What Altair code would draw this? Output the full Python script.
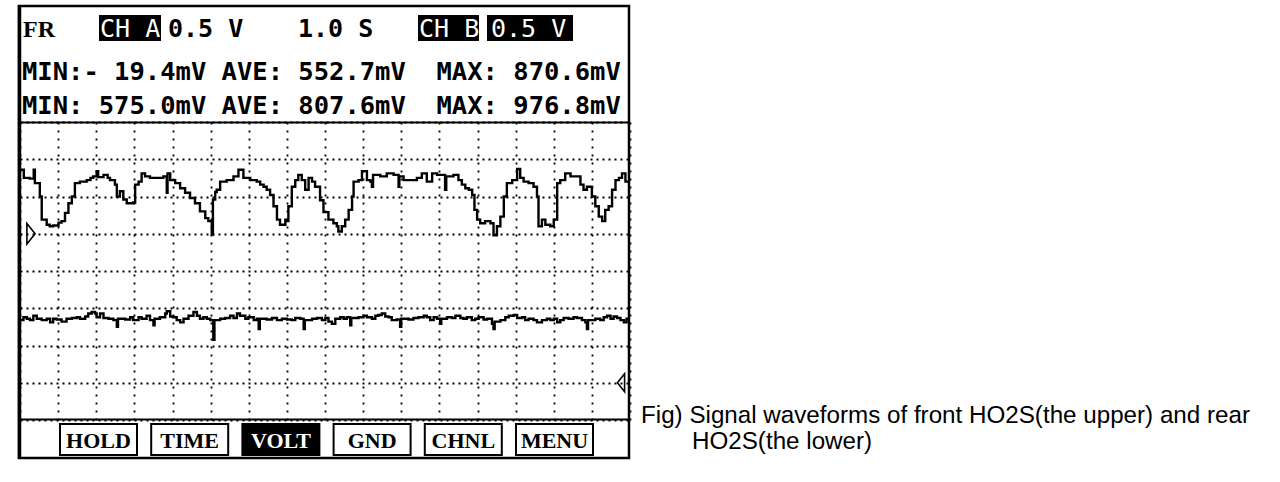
import altair as alt
import pandas as pd

# Front HO2S trace (CH A): (time in s, voltage in V)
ch_a = [
    (0.00, 0.86), (0.10, 0.75), (0.25, 0.74), (0.36, 0.86), (0.39, 0.68), (0.52, 0.50),
    (0.57, 0.19), (0.70, 0.12), (0.78, 0.10), (0.87, 0.11), (1.01, 0.15), (1.09, 0.17),
    (1.18, 0.28), (1.27, 0.41), (1.36, 0.50), (1.44, 0.68), (1.57, 0.70), (1.75, 0.72),
    (1.85, 0.75), (1.92, 0.77), (2.01, 0.84), (2.05, 0.76), (2.19, 0.79), (2.30, 0.75),
    (2.36, 0.72), (2.49, 0.66), (2.54, 0.50), (2.62, 0.57), (2.71, 0.46), (2.80, 0.41),
    (2.97, 0.42), (3.02, 0.66), (3.11, 0.70), (3.19, 0.81), (3.28, 0.77), (3.41, 0.75),
    (3.59, 0.75), (3.76, 0.77), (3.85, 0.55), (3.87, 0.81), (3.94, 0.72), (4.07, 0.68),
    (4.20, 0.61), (4.33, 0.55), (4.46, 0.48), (4.59, 0.41), (4.72, 0.30), (4.86, 0.21),
    (4.94, 0.17), (5.03, -0.01), (5.06, 0.46), (5.12, 0.56), (5.16, 0.59), (5.25, 0.70),
    (5.42, 0.72), (5.60, 0.77), (5.73, 0.86), (5.86, 0.75), (6.04, 0.72), (6.21, 0.70),
    (6.30, 0.66), (6.39, 0.63), (6.47, 0.59), (6.56, 0.52), (6.65, 0.37), (6.74, 0.19),
    (6.82, 0.12), (6.96, 0.19), (7.00, 0.17), (7.04, 0.37), (7.13, 0.63), (7.22, 0.72),
    (7.30, 0.79), (7.39, 0.72), (7.48, 0.59), (7.57, 0.75), (7.66, 0.70), (7.74, 0.63),
    (7.87, 0.45), (7.96, 0.29), (8.09, 0.19), (8.22, 0.14), (8.31, 0.10), (8.35, 0.03),
    (8.44, 0.10), (8.53, 0.19), (8.62, 0.32), (8.71, 0.50), (8.75, 0.70), (8.88, 0.72),
    (8.97, 0.84), (9.10, 0.72), (9.19, 0.70), (9.23, 0.63), (9.26, 0.79), (9.45, 0.77),
    (9.62, 0.81), (9.80, 0.79), (9.93, 0.63), (9.95, 0.77), (10.06, 0.72), (10.24, 0.72),
    (10.41, 0.75), (10.54, 0.81), (10.67, 0.70), (10.81, 0.81), (10.94, 0.79), (11.07, 0.79),
    (11.15, 0.59), (11.18, 0.77), (11.37, 0.79), (11.50, 0.72), (11.59, 0.66), (11.68, 0.61),
    (11.77, 0.59), (11.86, 0.52), (11.92, 0.32), (11.99, 0.19), (12.07, 0.14), (12.20, 0.17),
    (12.34, 0.14), (12.42, -0.02), (12.51, 0.10), (12.60, 0.23), (12.69, 0.50), (12.77, 0.68),
    (12.91, 0.72), (13.04, 0.87), (13.12, 0.75), (13.21, 0.70), (13.34, 0.68), (13.47, 0.63),
    (13.56, 0.50), (13.60, 0.10), (13.69, 0.19), (13.78, 0.12), (13.91, 0.10), (14.00, 0.19),
    (14.09, 0.68), (14.17, 0.72), (14.30, 0.81), (14.44, 0.77), (14.57, 0.77), (14.70, 0.66),
    (14.78, 0.59), (14.87, 0.63), (15.00, 0.50), (15.09, 0.37), (15.18, 0.23), (15.27, 0.17),
    (15.35, 0.32), (15.44, 0.37), (15.53, 0.59), (15.62, 0.72), (15.71, 0.75), (15.79, 0.81),
    (15.88, 0.70), (16.00, 0.70),
]

# Rear HO2S trace (CH B): (time in s, voltage in V)
ch_b = [
    (0.00, 0.84), (0.09, 0.88), (0.18, 0.86), (0.26, 0.84), (0.35, 0.90), (0.44, 0.86),
    (0.57, 0.84), (0.70, 0.86), (0.79, 0.81), (0.87, 0.86), (0.96, 0.85), (1.09, 0.82),
    (1.22, 0.86), (1.36, 0.87), (1.49, 0.88), (1.57, 0.86), (1.71, 0.89), (1.79, 0.93),
    (1.88, 0.95), (1.97, 0.93), (2.01, 0.88), (2.10, 0.93), (2.19, 0.87), (2.32, 0.86),
    (2.45, 0.84), (2.54, 0.75), (2.57, 0.86), (2.62, 0.86), (2.76, 0.85), (2.89, 0.88),
    (2.97, 0.84), (3.11, 0.88), (3.19, 0.86), (3.32, 0.90), (3.41, 0.84), (3.50, 0.77),
    (3.53, 0.86), (3.59, 0.86), (3.67, 0.88), (3.81, 0.93), (3.85, 0.96), (3.94, 0.89),
    (4.02, 0.88), (4.11, 0.84), (4.20, 0.81), (4.29, 0.86), (4.42, 0.90), (4.55, 0.95),
    (4.64, 0.90), (4.72, 0.86), (4.81, 0.88), (4.90, 0.86), (4.99, 0.84), (5.07, 0.575),
    (5.10, 0.84), (5.25, 0.86), (5.38, 0.87), (5.51, 0.90), (5.60, 0.87), (5.69, 0.93),
    (5.77, 0.90), (5.91, 0.86), (5.99, 0.88), (6.13, 0.84), (6.21, 0.86), (6.26, 0.72),
    (6.29, 0.86), (6.47, 0.85), (6.61, 0.87), (6.74, 0.84), (6.87, 0.86), (7.00, 0.85),
    (7.13, 0.84), (7.22, 0.87), (7.35, 0.86), (7.44, 0.72), (7.47, 0.84), (7.66, 0.86),
    (7.79, 0.87), (7.92, 0.84), (8.01, 0.87), (8.09, 0.82), (8.18, 0.79), (8.27, 0.86),
    (8.40, 0.88), (8.49, 0.86), (8.57, 0.88), (8.66, 0.77), (8.69, 0.87), (8.88, 0.88),
    (9.01, 0.90), (9.10, 0.88), (9.23, 0.86), (9.32, 0.90), (9.40, 0.91), (9.49, 0.93),
    (9.58, 0.89), (9.67, 0.88), (9.75, 0.84), (9.88, 0.85), (9.97, 0.75), (10.00, 0.86),
    (10.19, 0.85), (10.32, 0.87), (10.45, 0.88), (10.59, 0.90), (10.67, 0.88), (10.76, 0.84),
    (10.85, 0.88), (10.94, 0.86), (11.02, 0.79), (11.05, 0.86), (11.20, 0.88), (11.33, 0.87),
    (11.42, 0.90), (11.55, 0.87), (11.63, 0.86), (11.72, 0.88), (11.85, 0.84), (11.94, 0.86),
    (12.03, 0.88), (12.16, 0.85), (12.25, 0.86), (12.38, 0.79), (12.42, 0.72), (12.45, 0.82),
    (12.60, 0.84), (12.73, 0.88), (12.82, 0.90), (12.95, 0.91), (13.04, 0.87), (13.17, 0.88),
    (13.25, 0.84), (13.34, 0.86), (13.47, 0.84), (13.56, 0.81), (13.69, 0.84), (13.82, 0.86),
    (13.91, 0.84), (14.00, 0.86), (14.09, 0.81), (14.17, 0.84), (14.26, 0.87), (14.39, 0.86),
    (14.52, 0.88), (14.61, 0.87), (14.74, 0.84), (14.83, 0.81), (14.87, 0.72), (14.90, 0.84),
    (15.09, 0.86), (15.22, 0.84), (15.31, 0.88), (15.40, 0.90), (15.49, 0.86), (15.57, 0.89),
    (15.66, 0.87), (15.75, 0.84), (15.84, 0.81), (15.91, 0.86), (16.00, 0.86),
]

# Scope settings
volts_per_div = 0.5
secs_per_div = 1.0
n_xdiv, n_ydiv = 16, 8
ground_div_a = 5   # CH A zero level, divisions above the bottom
ground_div_b = 1   # CH B zero level

# Screen texts (non-breaking spaces keep the fixed-width columns)
NBSP = "\u00a0"
header_fr = "FR"
header_ch_a = "CH" + NBSP + "A"
header_volt_a = "0.5" + NBSP + "V"
header_time = "1.0" + NBSP + "S"
header_ch_b = "CH" + NBSP + "B"
header_volt_b = "0.5" + NBSP + "V"
stats_a = "MIN:- 19.4mV AVE: 552.7mV  MAX: 870.6mV".replace(" ", NBSP)
stats_b = "MIN: 575.0mV AVE: 807.6mV  MAX: 976.8mV".replace(" ", NBSP)
buttons = ["HOLD", "TIME", "VOLT", "GND", "CHNL", "MENU"]
active_button = "VOLT"
caption_1 = "Fig) Signal waveforms of front HO2S(the upper) and rear"
caption_2 = "HO2S(the lower)"

# Page layout (pixels)
LEFT, TOP = 20, 122
W, H = 610, 298
PAGE_W, PAGE_H = 1280, 482
MONO = "DejaVu Sans Mono"
SERIF = "Liberation Serif"
SANS = "Liberation Sans"


def px(x):
    return x - LEFT


def py(y):
    return y - TOP


one = pd.DataFrame({"k": [0]})


def label(txt, x, y, size, font, weight="bold", color="black", align="left"):
    return alt.Chart(one).mark_text(
        text=txt, font=font, fontSize=size, fontWeight=weight, color=color,
        align=align, baseline="alphabetic",
    ).encode(x=alt.value(px(x)), y=alt.value(py(y)))


def box(x0, x1, y0, y1, fill="black", stroke=None, sw=0.0, opacity=1.0):
    props = dict(fill=fill, fillOpacity=opacity)
    if stroke is not None:
        props.update(stroke=stroke, strokeWidth=sw)
    return alt.Chart(one).mark_rect(**props).encode(
        x=alt.value(px(x0)), x2=alt.value(px(x1)),
        y=alt.value(py(y0)), y2=alt.value(py(y1)),
    )


def hline(x0, x1, y, sw):
    return alt.Chart(one).mark_rule(color="black", strokeWidth=sw).encode(
        x=alt.value(px(x0)), x2=alt.value(px(x1)), y=alt.value(py(y))
    )


def vline(x, y0, y1, sw):
    return alt.Chart(one).mark_rule(color="black", strokeWidth=sw).encode(
        x=alt.value(px(x)), y=alt.value(py(y0)), y2=alt.value(py(y1))
    )


# Scales: time across 16 divisions, each channel with its own volts scale
x_scale = alt.Scale(domain=[0, n_xdiv * secs_per_div], nice=False, zero=False)
dom_a = [-ground_div_a * volts_per_div, (n_ydiv - ground_div_a) * volts_per_div]
dom_b = [-ground_div_b * volts_per_div, (n_ydiv - ground_div_b) * volts_per_div]
y_scale_a = alt.Scale(domain=dom_a, nice=False, zero=False)
y_scale_b = alt.Scale(domain=dom_b, nice=False, zero=False)

x_axis = alt.Axis(
    values=[i * secs_per_div for i in range(n_xdiv + 1)], grid=True, labels=False,
    ticks=False, domain=False, title=None, gridColor="black", gridDash=[2, 6],
    gridWidth=1.8, gridOpacity=1,
)
y_axis = alt.Axis(
    values=[dom_a[0] + i * volts_per_div for i in range(n_ydiv + 1)], grid=True,
    labels=False, ticks=False, domain=False, title=None, gridColor="black",
    gridDash=[2, 4], gridWidth=1.8, gridOpacity=1,
)

df_a = pd.DataFrame(ch_a, columns=["t", "v"])
df_b = pd.DataFrame(ch_b, columns=["t", "v"])

trace_a = alt.Chart(df_a).mark_line(
    color="black", strokeWidth=2.4, interpolate="step-after"
).encode(
    x=alt.X("t:Q", scale=x_scale, axis=x_axis),
    y=alt.Y("v:Q", scale=y_scale_a, axis=y_axis),
)
trace_b = alt.Chart(df_b).mark_line(
    color="black", strokeWidth=2.4, interpolate="step-after"
).encode(
    x=alt.X("t:Q", scale=x_scale, axis=x_axis),
    y=alt.Y("v:Q", scale=y_scale_b, axis=None),
)

# Zero-level markers of each channel
zero = pd.DataFrame({"v": [0.0]})
marker_right = "M -0.4 -1 L 0.4 0 L -0.4 1 Z"
marker_left = "M 0.4 -1 L -0.4 0 L 0.4 1 Z"
ground_a = alt.Chart(zero).mark_point(
    shape=marker_right, size=420, filled=False, stroke="black", strokeWidth=1.6, opacity=1
).encode(x=alt.value(px(31)), y=alt.Y("v:Q", scale=y_scale_a, axis=None))
ground_b = alt.Chart(zero).mark_point(
    shape=marker_left, size=320, filled=False, stroke="black", strokeWidth=1.6, opacity=1
).encode(x=alt.value(px(621)), y=alt.Y("v:Q", scale=y_scale_b, axis=None))

layers = []

# Header: channel settings and measurement rows
layers.append(label(header_fr, 23, 37, 24, SERIF))
layers.append(box(99, 161, 15, 41))
layers.append(label(header_ch_a, 100, 37, 25, MONO, weight="normal", color="white"))
layers.append(label(header_volt_a, 168, 37, 25, MONO))
layers.append(label(header_time, 298, 37, 25, MONO))
layers.append(box(418, 479, 15, 41))
layers.append(label(header_ch_b, 419, 37, 25, MONO, weight="normal", color="white"))
layers.append(box(487, 573, 15, 41))
layers.append(label(header_volt_b, 491, 37, 25, MONO, weight="normal", color="white"))
layers.append(label(stats_a, 22, 80, 25.5, MONO))
layers.append(label(stats_b, 22, 114, 25.5, MONO))

# Soft-key row
btn_left, btn_pitch, btn_w = 60, 91.2, 77
for i, name in enumerate(buttons):
    x0 = btn_left + i * btn_pitch
    on = name == active_button
    layers.append(box(x0, x0 + btn_w, 424, 455, fill="black" if on else "white",
                      stroke="black", sw=2))
    layers.append(label(name, x0 + btn_w / 2, 448, 22, SERIF,
                        color="white" if on else "black", align="center"))

# Frame and separators
layers.append(hline(19, 629, 122.5, 2))
layers.append(hline(19, 629, 419.5, 2))
layers.append(box(19, 629, 6, 458, fill="white", stroke="black", sw=2.5, opacity=0))
layers.append(vline(19.5, 5, 459, 3.5))

# Caption
layers.append(label(caption_1, 641, 423, 24.2, SANS, weight="normal"))
layers.append(label(caption_2, 692, 449, 24.2, SANS, weight="normal"))

chart = alt.layer(
    trace_a, trace_b, ground_a, ground_b, *layers
).resolve_scale(y="independent").properties(
    width=W, height=H,
    autosize=alt.AutoSizeParams(type="none"),
    padding={"left": LEFT, "top": TOP, "right": PAGE_W - LEFT - W, "bottom": PAGE_H - TOP - H},
    background="white",
).configure_view(strokeWidth=0)

chart.save("out.html", embed_options={"renderer": "svg", "actions": False})
